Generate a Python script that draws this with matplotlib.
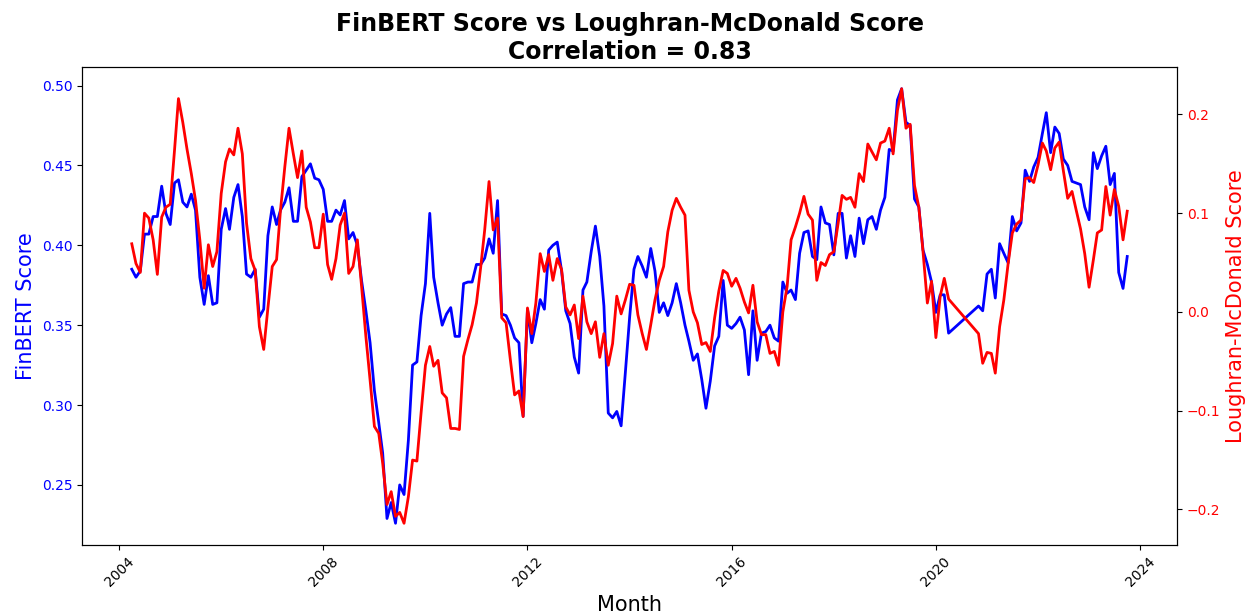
import matplotlib
matplotlib.use("Agg")
import matplotlib.pyplot as plt
import matplotlib.dates as mdates
import pandas as pd

# Monthly dates (data missing May-Oct 2020)
dates_a = pd.date_range("2004-04-01", "2020-04-01", freq="MS")
dates_b = pd.date_range("2020-11-01", "2023-10-01", freq="MS")
months = dates_a.append(dates_b)

finbert_a = [
    0.385, 0.380, 0.384, 0.407, 0.407, 0.418, 0.418, 0.437, 0.420, 0.413,
    0.439, 0.441, 0.427, 0.424, 0.432, 0.422, 0.380, 0.363, 0.381, 0.363,
    0.364, 0.410, 0.423, 0.410, 0.430, 0.438, 0.418, 0.382, 0.380, 0.385,
    0.355, 0.360, 0.406, 0.424, 0.413, 0.422, 0.427, 0.436, 0.415, 0.415,
    0.443, 0.447, 0.451, 0.442, 0.441, 0.435, 0.415, 0.415, 0.422, 0.419,
    0.428, 0.404, 0.408, 0.400, 0.378, 0.359, 0.339, 0.309, 0.289, 0.270,
    0.229, 0.239, 0.226, 0.250, 0.244, 0.278, 0.325, 0.327, 0.356, 0.376,
    0.420, 0.380, 0.364, 0.350, 0.357, 0.361, 0.343, 0.343, 0.376, 0.377,
    0.377, 0.388, 0.388, 0.392, 0.404, 0.395, 0.428, 0.357, 0.356, 0.350,
    0.342, 0.339, 0.293, 0.360, 0.339, 0.351, 0.366, 0.360, 0.397, 0.400,
    0.402, 0.384, 0.359, 0.351, 0.330, 0.320, 0.372, 0.377, 0.396, 0.412,
    0.393, 0.362, 0.295, 0.292, 0.296, 0.287, 0.320, 0.355, 0.385, 0.393,
    0.387, 0.380, 0.398, 0.384, 0.358, 0.364, 0.356, 0.364, 0.376, 0.364,
    0.350, 0.340, 0.328, 0.332, 0.316, 0.298, 0.315, 0.337, 0.343, 0.378,
    0.350, 0.348, 0.351, 0.355, 0.347, 0.319, 0.359, 0.328, 0.345, 0.346,
    0.350, 0.342, 0.340, 0.377, 0.370, 0.372, 0.366, 0.395, 0.408, 0.409,
    0.393, 0.391, 0.424, 0.414, 0.413, 0.394, 0.420, 0.420, 0.392, 0.406,
    0.393, 0.417, 0.401, 0.416, 0.418, 0.410, 0.422, 0.430, 0.460, 0.459,
    0.491, 0.498, 0.477, 0.475, 0.429, 0.424, 0.397, 0.388, 0.377, 0.358,
    0.369, 0.369, 0.345,
]
finbert_b = [
    0.362, 0.359, 0.382, 0.385, 0.367, 0.401, 0.395, 0.389, 0.418, 0.409,
    0.414, 0.447, 0.440, 0.449, 0.455, 0.470, 0.483, 0.458, 0.474, 0.470,
    0.454, 0.450, 0.440, 0.439, 0.438, 0.424, 0.416, 0.458, 0.448, 0.456,
    0.462, 0.438, 0.445, 0.383, 0.373, 0.393,
]
lm_a = [
    0.069, 0.049, 0.040, 0.100, 0.095, 0.073, 0.038, 0.096, 0.106, 0.109,
    0.164, 0.216, 0.192, 0.165, 0.140, 0.113, 0.073, 0.024, 0.068, 0.046,
    0.061, 0.120, 0.152, 0.165, 0.159, 0.186, 0.160, 0.090, 0.054, 0.042,
    -0.015, -0.038, 0.004, 0.046, 0.053, 0.103, 0.147, 0.186, 0.160, 0.136,
    0.163, 0.106, 0.091, 0.065, 0.065, 0.099, 0.048, 0.033, 0.054, 0.088,
    0.100, 0.039, 0.046, 0.073, 0.026, -0.025, -0.069, -0.116, -0.123, -0.153,
    -0.195, -0.182, -0.207, -0.203, -0.214, -0.187, -0.150, -0.151, -0.102, -0.054,
    -0.035, -0.055, -0.049, -0.082, -0.087, -0.118, -0.118, -0.119, -0.045, -0.028,
    -0.013, 0.009, 0.046, 0.083, 0.132, 0.083, 0.095, -0.006, -0.011, -0.049,
    -0.084, -0.080, -0.106, 0.004, -0.022, 0.009, 0.059, 0.041, 0.058, 0.032,
    0.054, 0.043, 0.005, -0.003, 0.007, -0.027, 0.016, -0.010, -0.022, -0.010,
    -0.046, -0.022, -0.054, -0.032, 0.016, -0.002, 0.012, 0.028, 0.027, -0.003,
    -0.022, -0.038, -0.013, 0.012, 0.032, 0.046, 0.081, 0.103, 0.115, 0.106,
    0.098, 0.022, 0.000, -0.011, -0.033, -0.031, -0.040, -0.006, 0.021, 0.042,
    0.039, 0.026, 0.034, 0.024, 0.010, -0.001, 0.027, -0.010, -0.023, -0.023,
    -0.042, -0.040, -0.054, 0.000, 0.026, 0.073, 0.086, 0.100, 0.117, 0.099,
    0.093, 0.032, 0.050, 0.047, 0.058, 0.061, 0.090, 0.118, 0.114, 0.116,
    0.106, 0.140, 0.132, 0.170, 0.162, 0.154, 0.171, 0.173, 0.186, 0.160,
    0.204, 0.226, 0.186, 0.190, 0.128, 0.106, 0.061, 0.009, 0.031, -0.026,
    0.016, 0.034, 0.013,
]
lm_b = [
    -0.022, -0.052, -0.041, -0.042, -0.062, -0.015, 0.012, 0.049, 0.080, 0.089,
    0.093, 0.135, 0.136, 0.131, 0.149, 0.171, 0.163, 0.144, 0.166, 0.172,
    0.143, 0.115, 0.122, 0.103, 0.084, 0.059, 0.025, 0.053, 0.080, 0.083,
    0.127, 0.098, 0.124, 0.107, 0.073, 0.102,
]
finbert = finbert_a + finbert_b
lm = lm_a + lm_b

title = "FinBERT Score vs Loughran-McDonald Score\nCorrelation = 0.83"

fig = plt.figure(figsize=(12.48, 6.15), dpi=100)
ax1 = fig.add_axes([82 / 1248, 1 - 545 / 615, (1177 - 82) / 1248, (545 - 67) / 615])
ax1.plot(months, finbert, color="blue", linewidth=2)
ax1.set_ylabel("FinBERT Score", color="blue", fontsize=15)
ax1.set_xlabel("Month", fontsize=15)
ax1.tick_params(axis="y", labelcolor="blue")
ax1.xaxis.set_major_locator(mdates.YearLocator(4))
ax1.xaxis.set_major_formatter(mdates.DateFormatter("%Y"))
plt.setp(ax1.get_xticklabels(), rotation=45)

ax2 = ax1.twinx()
ax2.plot(months, lm, color="red", linewidth=2)
ax2.set_ylabel("Loughran-McDonald Score", color="red", fontsize=15)
ax2.tick_params(axis="y", labelcolor="red")

ax1.set_title(title, fontsize=17, fontweight="bold")

fig.savefig("out.png", dpi=100)
